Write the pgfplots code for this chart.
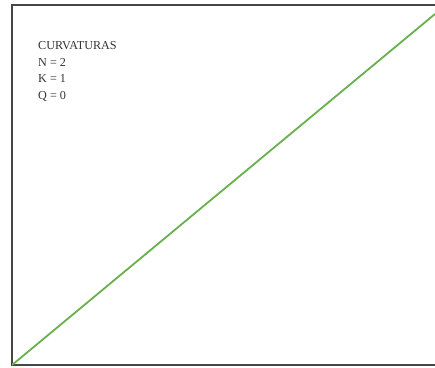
\documentclass[border=0pt]{standalone}
\usepackage{pgfplots}
\pgfplotsset{compat=1.18}
\usepackage{fontspec}
\setmainfont{Liberation Serif}
\definecolor{curvegreen}{RGB}{104,176,76}
\definecolor{framegray}{RGB}{70,70,70}
\begin{document}
\begin{tikzpicture}[x=1bp,y=1bp]
\path[use as bounding box] (0,0) rectangle (435,367);
\begin{axis}[
  at={(12bp,2bp)}, anchor=south west,
  scale only axis,
  width=426bp, height=360bp,
  xmin=12, xmax=438, ymin=2, ymax=362,
  xtick=\empty, ytick=\empty,
  axis line style={draw=framegray, line width=1.6bp},
  clip=true,
]
% the curve for N = 2, K = 1, Q = 0
\addplot[curvegreen, line width=1.8bp] coordinates {
  (12,2) (435,353)
};
\node[anchor=base west, font=\fontsize{12.2}{16}\selectfont, text=black!80, inner sep=0pt]
  at (axis cs:38,318) {CURVATURAS};
\node[anchor=base west, font=\fontsize{12.2}{16}\selectfont, text=black!80, inner sep=0pt]
  at (axis cs:38,301) {N = 2};
\node[anchor=base west, font=\fontsize{12.2}{16}\selectfont, text=black!80, inner sep=0pt]
  at (axis cs:38,285) {K = 1};
\node[anchor=base west, font=\fontsize{12.2}{16}\selectfont, text=black!80, inner sep=0pt]
  at (axis cs:38,268) {Q = 0};
\end{axis}
\end{tikzpicture}
\end{document}
